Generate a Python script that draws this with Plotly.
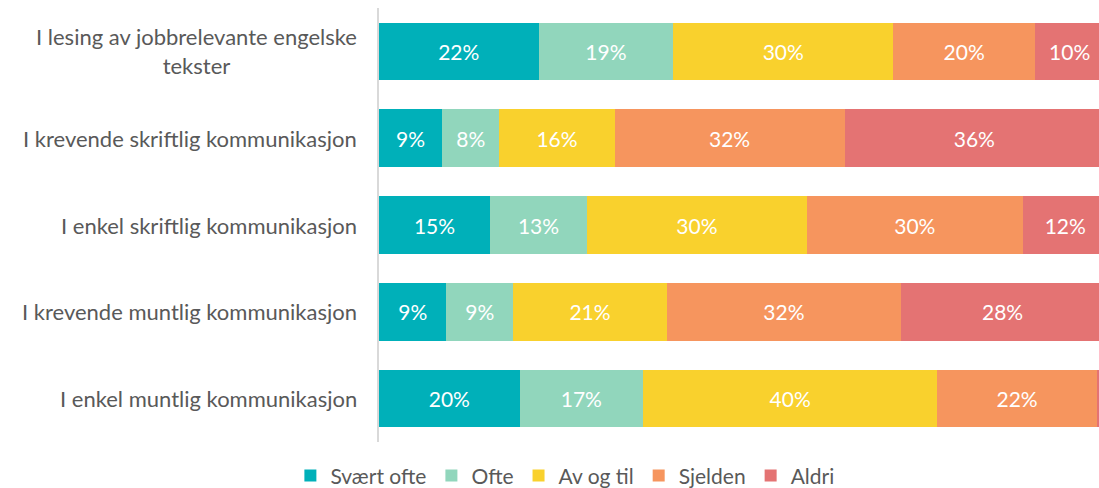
import plotly.graph_objects as go

categories = [
    "I lesing av jobbrelevante engelske<br>tekster",
    "I krevende skriftlig kommunikasjon",
    "I enkel skriftlig kommunikasjon",
    "I krevende muntlig kommunikasjon",
    "I enkel muntlig kommunikasjon",
]
series_names = ["Svært ofte", "Ofte", "Av og til", "Sjelden", "Aldri"]
svaert_ofte = [22.0, 8.7, 15.3, 9.3, 19.4]
ofte = [18.6, 7.9, 13.4, 9.2, 17.0]
av_og_til = [30.3, 15.9, 30.3, 21.2, 40.6]
sjelden = [19.6, 31.7, 29.8, 32.3, 22.0]
aldri = [9.5, 35.8, 11.7, 28.0, 1.0]
labels_svaert_ofte = ["22%", "9%", "15%", "9%", "20%"]
labels_ofte = ["19%", "8%", "13%", "9%", "17%"]
labels_av_og_til = ["30%", "16%", "30%", "21%", "40%"]
labels_sjelden = ["20%", "32%", "30%", "32%", "22%"]
labels_aldri = ["10%", "36%", "12%", "28%", ""]

colors = ["#00B0B9", "#91D6BC", "#F9D12D", "#F6955E", "#E47373"]
values = [svaert_ofte, ofte, av_og_til, sjelden, aldri]
labels = [labels_svaert_ofte, labels_ofte, labels_av_og_til, labels_sjelden, labels_aldri]

FONT = "Lato"
TXT = "#595959"

fig = go.Figure()
for name, vals, labs, col in zip(series_names, values, labels, colors):
    fig.add_trace(go.Bar(
        y=categories, x=vals, name=name, orientation="h",
        marker=dict(color=col, line=dict(width=0)),
        text=labs, textposition="inside", insidetextanchor="middle",
        textfont=dict(color="white", size=21, family=FONT),
        textangle=0,
        hoverinfo="skip",
    ))

for cat in categories:
    fig.add_annotation(
        x=0, xref="paper", y=cat, yref="y", text=cat, showarrow=False,
        xanchor="right", yanchor="middle", align="center", xshift=-20,
        font=dict(size=22, color=TXT, family=FONT),
    )

fig.update_layout(
    width=1099, height=488,
    barmode="stack", bargap=0.337,
    plot_bgcolor="white", paper_bgcolor="white",
    margin=dict(l=379, r=0, t=8, b=46, autoexpand=False),
    font=dict(family=FONT, color=TXT, size=22),
    showlegend=True,
    legend=dict(
        orientation="h", x=0.514, xref="container", xanchor="center",
        y=0.025, yref="container", yanchor="middle",
        font=dict(size=21, color=TXT, family=FONT),
        traceorder="normal", itemwidth=30,
    ),
)
fig.update_xaxes(range=[0, 99.3], showgrid=False, zeroline=False,
                 showticklabels=False, showline=False, fixedrange=True)
fig.update_yaxes(autorange="reversed", showticklabels=False, showgrid=False,
                 showline=True, linecolor="#D9D9D9", linewidth=1.5,
                 zeroline=False, ticks="")

fig.write_html(
    "out.html",
    config={"displayModeBar": False},
    post_script="document.body.style.margin='0';document.body.style.overflow='hidden';",
)
